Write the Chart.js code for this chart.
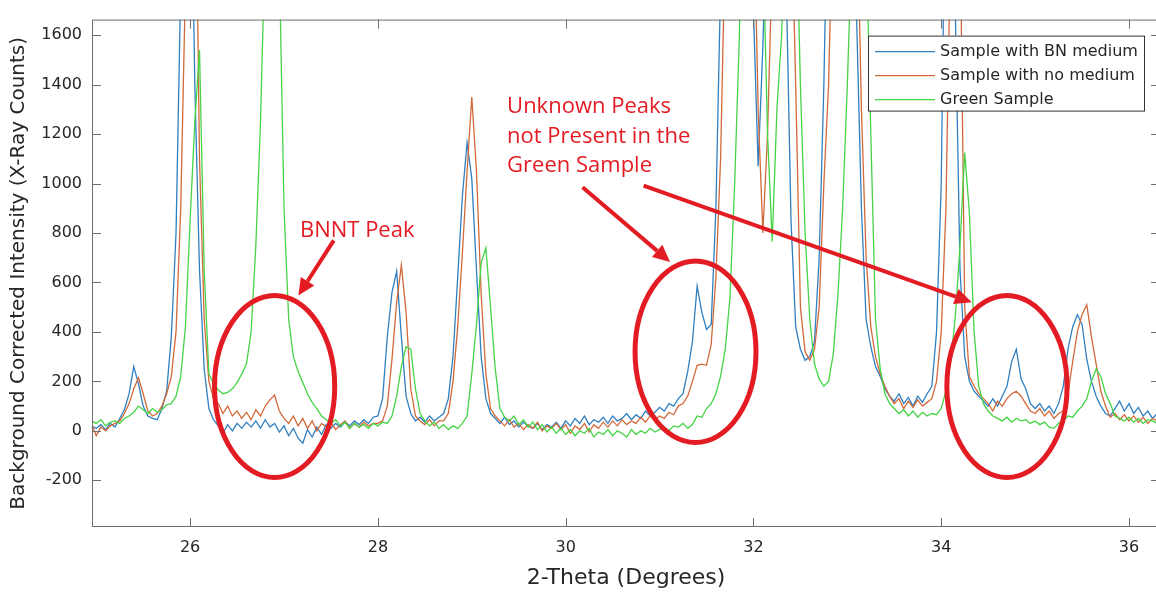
<!DOCTYPE html>
<html>
<head>
<meta charset="utf-8">
<script src="https://cdn.jsdelivr.net/npm/chart.js@4/dist/chart.umd.min.js"></script>
<style>
  html, body { margin: 0; padding: 0; background: #fff; overflow: hidden; }
  #wrap { position: relative; width: 1162px; height: 594px; }
</style>
</head>
<body>
<div id="wrap"><canvas id="xrd"></canvas></div>
<script>
// 2-theta grid (degrees)
const twoTheta = [24.95,
  25.00,25.05,25.10,25.15,25.20,25.25,25.30,25.35,25.40,25.45,25.50,25.55,25.60,25.65,25.70,25.75,25.80,25.85,25.90,25.95,
  26.00,26.05,26.10,26.15,26.20,26.25,26.30,26.35,26.40,26.45,26.50,26.55,26.60,26.65,26.70,26.75,26.80,26.85,26.90,26.95,
  27.00,27.05,27.10,27.15,27.20,27.25,27.30,27.35,27.40,27.45,27.50,27.55,27.60,27.65,27.70,27.75,27.80,27.85,27.90,27.95,
  28.00,28.05,28.10,28.15,28.20,28.25,28.30,28.35,28.40,28.45,28.50,28.55,28.60,28.65,28.70,28.75,28.80,28.85,28.90,28.95,
  29.00,29.05,29.10,29.15,29.20,29.25,29.30,29.35,29.40,29.45,29.50,29.55,29.60,29.65,29.70,29.75,29.80,29.85,29.90,29.95,
  30.00,30.05,30.10,30.15,30.20,30.25,30.30,30.35,30.40,30.45,30.50,30.55,30.60,30.65,30.70,30.75,30.80,30.85,30.90,30.95,
  31.00,31.05,31.10,31.15,31.20,31.25,31.30,31.35,31.40,31.45,31.50,31.55,31.60,31.65,31.70,31.75,31.80,31.85,31.90,31.95,
  32.00,32.05,32.10,32.15,32.20,32.25,32.30,32.35,32.40,32.45,32.50,32.55,32.60,32.65,32.70,32.75,32.80,32.85,32.90,32.95,
  33.00,33.05,33.10,33.15,33.20,33.25,33.30,33.35,33.40,33.45,33.50,33.55,33.60,33.65,33.70,33.75,33.80,33.85,33.90,33.95,
  34.00,34.05,34.10,34.15,34.20,34.25,34.30,34.35,34.40,34.45,34.50,34.55,34.60,34.65,34.70,34.75,34.80,34.85,34.90,34.95,
  35.00,35.05,35.10,35.15,35.20,35.25,35.30,35.35,35.40,35.45,35.50,35.55,35.60,35.65,35.70,35.75,35.80,35.85,35.90,35.95,
  36.00,36.05,36.10,36.15,36.20,36.25,36.30];

// counts (peaks above 1663 are off-scale, estimated)
const bnMedium = [20,
  10,25,5,30,15,50,85,150,260,190,100,60,50,45,90,160,380,800,1800,3400,
  2600,1400,650,250,90,45,20,-10,25,0,30,10,35,15,40,10,45,15,30,-5,
  20,-20,10,-30,-50,5,-25,15,-15,25,10,30,15,35,20,40,25,45,30,55,
  60,130,380,560,645,380,140,70,40,55,35,60,40,55,70,130,300,620,950,1165,
  1020,650,300,130,70,50,30,55,25,40,15,35,20,10,30,5,25,15,35,10,
  40,20,50,30,60,25,45,35,55,30,60,40,50,70,45,65,50,80,60,75,
  95,80,110,100,130,150,240,360,585,480,410,430,900,1800,3500,5000,5800,5500,4500,3000,
  1700,1070,1550,2200,2800,2900,2600,1800,850,420,330,285,300,360,700,1400,2400,3500,4200,4000,
  3300,2400,1650,900,450,340,260,220,170,140,120,150,110,135,100,140,115,150,180,400,
  1000,2500,3500,1700,650,300,200,160,140,120,100,130,100,140,180,280,330,210,170,110,
  90,110,80,100,70,110,180,330,420,470,430,290,200,140,100,70,60,90,120,80,
  110,70,95,60,80,50,70];

const noMedium = [30,
  -20,15,0,20,30,40,70,110,170,215,150,80,60,70,100,150,220,400,900,1800,
  3200,2600,1100,450,200,130,110,70,100,60,80,50,75,45,85,60,100,125,145,80,
  50,30,60,20,50,10,40,0,30,15,35,5,25,40,10,30,15,35,20,30,
  30,40,100,290,520,670,480,170,60,40,25,45,20,40,40,70,200,420,720,1050,
  1350,1050,550,230,90,60,40,20,45,15,30,5,25,10,35,0,20,10,30,5,
  25,-10,20,5,30,-5,25,10,35,15,40,20,45,25,40,30,55,35,60,45,
  60,50,75,65,100,110,140,200,265,270,265,350,620,1100,2000,3500,4500,4800,4200,3200,
  2200,1300,800,1200,1900,2600,3000,2900,2200,1400,500,320,285,330,500,1000,1400,2200,3200,3800,
  3600,3000,2200,1300,700,420,300,230,180,140,110,130,90,120,95,125,100,115,130,200,
  400,900,2000,3500,2100,500,220,180,150,130,110,80,120,100,130,150,160,140,110,80,
  70,90,60,80,50,70,80,150,280,400,470,510,380,270,160,100,55,70,45,65,
  40,60,35,55,30,50,40];

const greenSample = [40,
  30,45,20,35,40,30,50,60,75,100,85,70,90,75,85,105,110,140,220,420,
  850,1250,1540,650,230,190,165,150,155,170,195,230,270,400,750,1250,2000,2800,2600,1900,
  900,450,300,240,195,150,115,90,60,45,30,45,20,35,10,30,15,25,10,30,
  20,35,30,60,140,260,340,330,170,70,40,20,35,10,25,5,20,10,30,60,
  230,430,680,740,500,250,90,55,40,60,25,45,15,35,5,25,-5,15,-10,10,
  -15,5,-20,0,-10,10,-25,-5,-15,5,-20,0,-10,-25,5,-15,0,-10,10,-5,
  5,15,0,20,15,30,10,25,60,55,90,110,150,220,330,540,1000,1600,2600,3800,
  4200,3500,2000,1200,765,1300,1600,2200,2800,2200,1400,800,450,270,210,180,200,310,550,900,
  1400,2000,2800,2600,2000,1200,450,250,150,110,90,70,85,60,80,55,75,60,70,65,
  90,160,280,460,750,1125,880,400,180,110,80,60,50,40,55,35,50,40,45,30,
  40,25,35,15,10,30,40,60,55,80,100,130,200,250,220,150,110,60,50,40,
  55,35,50,30,45,40,30];

const seriesNames = ['Sample with BN medium', 'Sample with no medium', 'Green Sample'];
const xTicks = [26, 28, 30, 32, 34, 36];
const yTicks = [-200, 0, 200, 400, 600, 800, 1000, 1200, 1400, 1600];

// red markup, in data coordinates
const RED = '#e31b23';
const notes = {
  ellipses: [
    { x: 26.90, y: 179, rx: 0.64, ry: 368 },
    { x: 31.383, y: 320, rx: 0.644, ry: 367 },
    { x: 34.70, y: 179, rx: 0.64, ry: 368 }
  ],
  arrows: [
    { from: [27.53, 770], to: [27.153, 547] },
    { from: [30.18, 985], to: [31.112, 683] },
    { from: [30.83, 992], to: [34.325, 520] }
  ],
  labels: [
    { x: 27.17, y: 810, text: 'BNNT Peak' },
    { x: 29.376, y: 1310, text: 'Unknown Peaks' },
    { x: 29.376, y: 1191, text: 'not Present in the' },
    { x: 29.376, y: 1072, text: 'Green Sample' }
  ]
};

function drawArrow(ctx, x1, y1, x2, y2) {
  const ang = Math.atan2(y2 - y1, x2 - x1);
  const head = 17, half = 8;
  const bx = x2 - head * Math.cos(ang), by = y2 - head * Math.sin(ang);
  ctx.beginPath(); ctx.moveTo(x1, y1); ctx.lineTo(bx, by); ctx.stroke();
  ctx.beginPath();
  ctx.moveTo(x2, y2);
  ctx.lineTo(bx + half * Math.sin(ang), by - half * Math.cos(ang));
  ctx.lineTo(bx - half * Math.sin(ang), by + half * Math.cos(ang));
  ctx.closePath(); ctx.fill();
}

// matlab-ish box, inward ticks, boxed legend and the red markup
const matlabFrame = {
  id: 'matlabFrame',
  afterDatasetsDraw(chart) {
    const { ctx, chartArea: a, scales: { x, y } } = chart;
    ctx.save();

    ctx.strokeStyle = '#6e6e6e';
    ctx.lineWidth = 1;
    ctx.strokeRect(a.left + 0.5, a.top + 0.5, a.width - 1, a.height - 1);
    ctx.beginPath();
    xTicks.forEach(v => {
      const px = Math.round(x.getPixelForValue(v)) + 0.5;
      ctx.moveTo(px, a.bottom); ctx.lineTo(px, a.bottom - 9);
      ctx.moveTo(px, a.top); ctx.lineTo(px, a.top + 9);
    });
    yTicks.forEach(v => {
      const py = Math.round(y.getPixelForValue(v)) + 0.5;
      ctx.moveTo(a.left, py); ctx.lineTo(a.left + 9, py);
      ctx.moveTo(a.right, py); ctx.lineTo(a.right - 9, py);
    });
    ctx.stroke();

    // red ellipses / arrows / text
    ctx.strokeStyle = RED;
    ctx.fillStyle = RED;
    ctx.lineWidth = 5;
    notes.ellipses.forEach(e => {
      const cx = x.getPixelForValue(e.x), cy = y.getPixelForValue(e.y);
      const rx = x.getPixelForValue(e.x + e.rx) - cx;
      const ry = y.getPixelForValue(e.y - e.ry) - cy;
      ctx.beginPath(); ctx.ellipse(cx, cy, rx, ry, 0, 0, Math.PI * 2); ctx.stroke();
    });
    ctx.lineWidth = 4;
    notes.arrows.forEach(ar => {
      drawArrow(ctx, x.getPixelForValue(ar.from[0]), y.getPixelForValue(ar.from[1]),
                x.getPixelForValue(ar.to[0]), y.getPixelForValue(ar.to[1]));
    });
    ctx.font = '22px "Open Sans", sans-serif';
    ctx.textAlign = 'left';
    ctx.textBaseline = 'middle';
    notes.labels.forEach(l => ctx.fillText(l.text, x.getPixelForValue(l.x), y.getPixelForValue(l.y)));

    // legend box
    const lx = a.right - 292, ly = a.top + 16, lw = 276, lh = 75;
    ctx.fillStyle = '#fff';
    ctx.fillRect(lx, ly, lw, lh);
    ctx.strokeStyle = '#333';
    ctx.lineWidth = 1;
    ctx.strokeRect(lx + 0.5, ly + 0.5, lw, lh);
    ctx.font = '16px "DejaVu Sans", sans-serif';
    chart.data.datasets.forEach((ds, i) => {
      const ry = ly + 16 + i * 24;
      ctx.strokeStyle = ds.borderColor;
      ctx.lineWidth = 1.3;
      ctx.beginPath(); ctx.moveTo(lx + 7, ry); ctx.lineTo(lx + 67, ry); ctx.stroke();
      ctx.fillStyle = '#262626';
      ctx.fillText(ds.label, lx + 72, ry);
    });
    ctx.restore();
  }
};

Chart.defaults.font.family = '"DejaVu Sans", sans-serif';
Chart.defaults.color = '#262626';

const colors = ['#2f7fc1', '#d2693a', '#44d444'];
const series = [bnMedium, noMedium, greenSample];

new Chart(document.getElementById('xrd'), {
  type: 'line',
  data: {
    datasets: series.map((vals, i) => ({
      label: seriesNames[i],
      data: twoTheta.map((t, j) => ({ x: t, y: vals[j] })),
      borderColor: colors[i],
      borderWidth: 1.3,
      pointRadius: 0,
      tension: 0,
      fill: false,
      order: 2 - i
    }))
  },
  options: {
    responsive: true,
    maintainAspectRatio: false,
    animation: false,
    layout: { padding: { top: 10, right: 2, left: 0, bottom: 0 } },
    plugins: { legend: { display: false }, tooltip: { enabled: false } },
    scales: {
      x: {
        type: 'linear', min: 24.955, max: 36.33,
        grid: { display: false, drawTicks: false },
        border: { display: false },
        afterBuildTicks: s => { s.ticks = xTicks.map(v => ({ value: v })); },
        afterFit: s => { s.height = 67; },
        ticks: { padding: 11, font: { size: 16 }, maxRotation: 0, callback: v => String(v) },
        title: { display: true, text: '2-Theta (Degrees)', font: { size: 22 }, padding: { top: 0, bottom: 3 } }
      },
      y: {
        min: -389, max: 1663,
        grid: { display: false, drawTicks: false },
        border: { display: false },
        afterBuildTicks: s => { s.ticks = yTicks.map(v => ({ value: v })); },
        afterFit: s => { s.width = 92; },
        ticks: { padding: 10, font: { size: 16 }, callback: v => String(v) },
        title: { display: true, text: 'Background Corrected Intensity (X-Ray Counts)', font: { size: 20 }, padding: { top: 7, bottom: 0 } }
      }
    }
  },
  plugins: [matlabFrame]
});
</script>
</body>
</html>
